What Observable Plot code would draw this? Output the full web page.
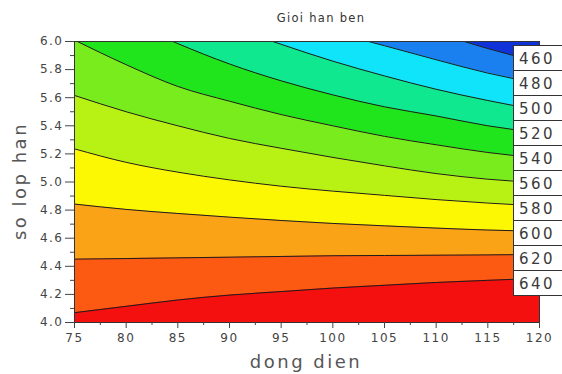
<!DOCTYPE html>
<html><head><meta charset="utf-8">
<script src="https://cdn.jsdelivr.net/npm/d3@7"></script>
<script src="https://cdn.jsdelivr.net/npm/@observablehq/plot@0.6"></script>
<style>body{margin:0;background:#fff;overflow:hidden}</style>
</head><body><div id="chart"></div>
<script>
// x positions (dong dien) at which contour heights were read
const dongDien = [75, 80, 85, 90, 95, 100, 105, 110, 115, 120];
// contour levels (bottom to top)
const levels = [640, 620, 600, 580, 560, 540, 520, 500, 480, 460];
// so lop han position of each contour line at the dongDien positions
const y640 = [4.07, 4.115, 4.16, 4.195, 4.22, 4.245, 4.265, 4.285, 4.30, 4.315];
const y620 = [4.451, 4.455, 4.46, 4.465, 4.47, 4.475, 4.477, 4.479, 4.481, 4.485];
const y600 = [4.843, 4.805, 4.776, 4.75, 4.726, 4.705, 4.688, 4.672, 4.658, 4.65];
const y580 = [5.236, 5.14, 5.07, 5.015, 4.97, 4.935, 4.905, 4.875, 4.85, 4.83];
const y560 = [5.616, 5.50, 5.40, 5.31, 5.24, 5.175, 5.115, 5.06, 5.02, 4.995];
const y540 = [6.01, 5.835, 5.68, 5.575, 5.48, 5.40, 5.325, 5.265, 5.21, 5.17];
const y520 = [6.35, 6.15, 5.985, 5.84, 5.72, 5.62, 5.535, 5.47, 5.40, 5.35];
const y500 = [6.65, 6.45, 6.27, 6.11, 5.98, 5.86, 5.755, 5.66, 5.58, 5.51];
const y480 = [6.95, 6.75, 6.55, 6.37, 6.2, 6.07, 5.97, 5.87, 5.775, 5.70];
const y460 = [7.2, 7.0, 6.8, 6.6, 6.4, 6.2, 6.11, 6.055, 5.95, 5.85];
// band colours: >640, 620-640, ..., <460
const bandColors = ["#f51010", "#fc5a12", "#faa316", "#fcf804", "#b8f214", "#78ec1c",
                    "#20e41c", "#10e890", "#10e4fa", "#1a80f0", "#0f33d9"];
const legendLabels = [460, 480, 500, 520, 540, 560, 580, 600, 620, 640];
const xDomain = [75, 120];
const yDomain = [4.0, 6.0];
const xTicks = [75, 80, 85, 90, 95, 100, 105, 110, 115, 120];
const xMinor = [77.5, 82.5, 87.5, 92.5, 97.5, 102.5, 107.5, 112.5, 117.5];
const yTicks = [4.0, 4.2, 4.4, 4.6, 4.8, 5.0, 5.2, 5.4, 5.6, 5.8, 6.0];
const yMinor = [4.1, 4.3, 4.5, 4.7, 4.9, 5.1, 5.3, 5.5, 5.7, 5.9];
const title = "Gioi han ben";
const xLabel = "dong dien";
const yLabel = "so lop han";

const contours = [y640, y620, y600, y580, y560, y540, y520, y500, y480, y460];
const lowerEdges = [null, ...contours];
const bandMarks = lowerEdges.map((edge, i) => Plot.areaY(
  dongDien.map((x, j) => ({x, y1: edge ? edge[j] : yDomain[0], y2: yDomain[1]})),
  {x: "x", y1: "y1", y2: "y2", fill: bandColors[i], curve: "monotone-x", clip: true}
));
const lineMarks = contours.map(c => Plot.line(
  dongDien.map((x, j) => ({x, y: c[j]})),
  {x: "x", y: "y", stroke: "#1c1c1c", strokeWidth: 1, curve: "monotone-x", clip: true}
));

const svg = Plot.plot({
  width: 562, height: 374,
  marginLeft: 74, marginRight: 23, marginTop: 41, marginBottom: 52,
  style: {fontFamily: "DejaVu Sans", fontSize: "12px", color: "#444", background: "white"},
  x: {domain: xDomain},
  y: {domain: yDomain},
  marks: [
    ...bandMarks,
    ...lineMarks,
    Plot.frame({stroke: "#333"}),
    Plot.axisX(xTicks, {tickSize: 6, tickPadding: 5, label: null, fill: "#444"}),
    Plot.axisX(xMinor, {tickSize: 3, text: null, label: null}),
    Plot.axisY(yTicks, {tickSize: 9, tickPadding: 2, tickFormat: d => d.toFixed(1), label: null, fill: "#444"}),
    Plot.axisY(yMinor, {tickSize: 4, text: null, label: null})
  ]
});
document.getElementById("chart").appendChild(svg);

const s = d3.select(svg);
s.selectAll("g[aria-label='x-axis tick label'] text, g[aria-label='y-axis tick label'] text")
  .style("letter-spacing", "1.5px");
s.append("text").attr("x", 321).attr("y", 18).attr("text-anchor", "middle")
  .attr("dominant-baseline", "middle").attr("font-size", 11.5).attr("fill", "#333")
  .style("letter-spacing", "1.3px").text(title);
s.append("text").attr("x", 306).attr("y", 363).attr("text-anchor", "middle")
  .attr("dominant-baseline", "middle").attr("font-size", 18).attr("fill", "#555")
  .style("letter-spacing", "2.5px").text(xLabel);
s.append("text").attr("transform", "translate(21,181) rotate(-90)").attr("text-anchor", "middle")
  .attr("dominant-baseline", "middle").attr("font-size", 18).attr("fill", "#555")
  .style("letter-spacing", "2.5px").text(yLabel);
const lg = s.append("g");
legendLabels.forEach((v, i) => {
  const top = 45 + 25 * i;
  lg.append("rect").attr("x", 513.5).attr("y", top + 0.5).attr("width", 60).attr("height", 25)
    .attr("fill", "white").attr("stroke", "#333");
  lg.append("text").attr("x", 519).attr("y", top + 14.5).attr("text-anchor", "start")
    .attr("dominant-baseline", "middle")
    .attr("font-size", 15).attr("fill", "#3a3a3a").style("letter-spacing", "2.5px").text(v);
});
</script>
</body></html>
